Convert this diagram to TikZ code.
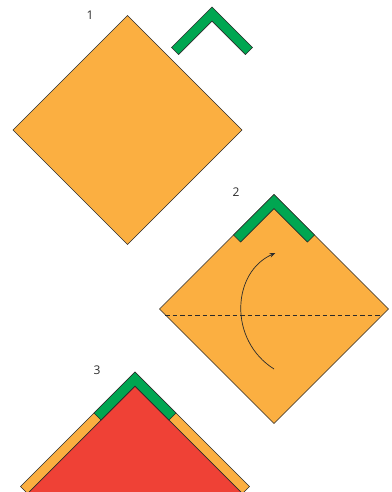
\documentclass[tikz,border=0pt]{standalone}
\usepackage{fontspec}
\setmainfont{Open Sans}
\usetikzlibrary{arrows.meta}
\definecolor{paper}{HTML}{FBAF41}
\definecolor{tape}{HTML}{00A651}
\definecolor{back}{HTML}{EF4136}
\definecolor{ink}{HTML}{2B2B2B}
\tikzset{
  sheet/.style={fill=paper,draw=ink,line width=0.6pt,line join=miter},
  tapestrip/.style={fill=tape,draw=ink,line width=0.6pt,line join=miter},
  backside/.style={fill=back,draw=ink,line width=0.6pt},
  steplabel/.style={text=ink,font=\fontsize{12}{14}\selectfont,inner sep=0pt},
  foldline/.style={draw=ink,line width=0.7pt,dash pattern=on 4.5pt off 3pt},
  movearrow/.style={draw=ink,line width=0.7pt,-{Stealth[length=6pt,width=4.5pt]}}
}
\newcommand\gchev[3]{% apex x, apex y, arm
  \path[tapestrip] (#1,#2) -- ++(-#3,#3) -- ++(7.07,7.07) -- (#1,#2+14.14)
    -- (#1+#3-7.07,#2+#3+7.07) -- (#1+#3,#2+#3) -- cycle;}
\begin{document}
\begin{tikzpicture}[x=1pt,y=-1pt]
\useasboundingbox (0,0) rectangle (391,492);
\clip (0,0) rectangle (391,492);
% step 1
\path[sheet] (127.5,15.5) -- (242,130) -- (127.5,244.5) -- (13,130) -- cycle;
\gchev{212}{7}{40.5}
\node[steplabel] (n1) at (90,15) {1};
% step 2
\path[sheet] (274,194.5) -- (388.5,309) -- (274,423.5) -- (159.5,309) -- cycle;
\gchev{274}{194.5}{40.5}
\node[steplabel] (n2) at (236,192) {2};
\coordinate (fl) at (165,315);
\coordinate (fr) at (382,315);
\draw[foldline] (fl) -- (fr);
\coordinate (as) at (274,369);
\coordinate (ae) at (275.5,253);
\draw[movearrow] (as) .. controls (228,340) and (232,272) .. (ae);
% step 3
\path[sheet] (135,372) -- (249.5,486.5) -- (135,601) -- (20.5,486.5) -- cycle;
\begin{scope}
\clip (135,372) -- (249.5,486.5) -- (135,601) -- (20.5,486.5) -- cycle;
\path[backside] (135,386.14) -- (15,506.14) -- (255,506.14) -- cycle;
\end{scope}
\gchev{135}{372}{41}
\node[steplabel] (n3) at (97,370) {3};
\end{tikzpicture}
\end{document}
